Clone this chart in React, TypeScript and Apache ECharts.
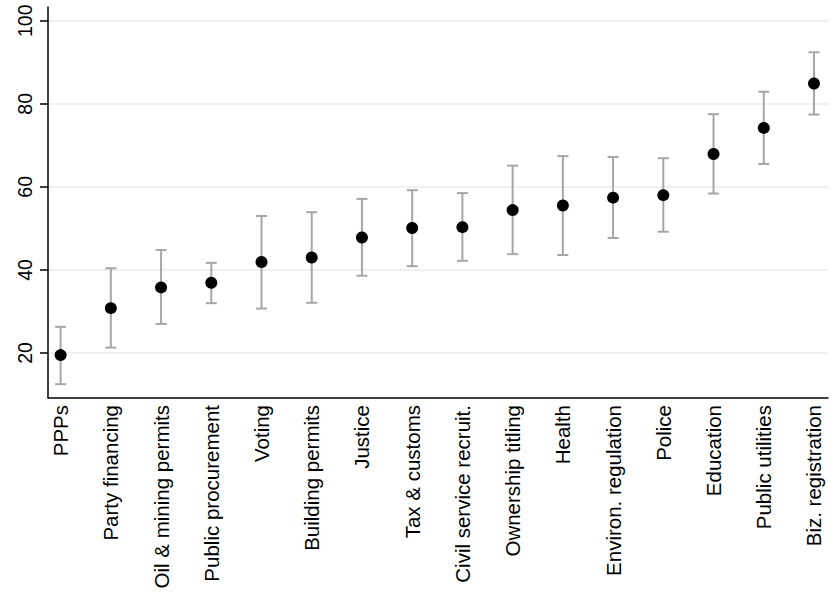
import React, { useEffect, useRef } from "react";
import * as echarts from "echarts";

const categories = [
  "PPPs",
  "Party financing",
  "Oil & mining permits",
  "Public procurement",
  "Voting",
  "Building permits",
  "Justice",
  "Tax & customs",
  "Civil service recruit.",
  "Ownership titling",
  "Health",
  "Environ. regulation",
  "Police",
  "Education",
  "Public utilities",
  "Biz. registration",
];
const means = [19.5, 30.8, 35.8, 36.9, 41.9, 43.0, 47.8, 50.1, 50.3, 54.4, 55.5, 57.4, 58.0, 67.9, 74.2, 84.9];
const lower = [12.5, 21.3, 27.0, 32.0, 30.7, 32.1, 38.6, 40.9, 42.2, 43.8, 43.6, 47.7, 49.2, 58.4, 65.5, 77.4];
const upper = [26.3, 40.4, 44.8, 41.7, 53.0, 53.9, 57.1, 59.2, 58.5, 65.1, 67.4, 67.2, 66.9, 77.5, 82.9, 92.4];
const yTicks = [20, 40, 60, 80, 100];

export default function App() {
  const ref = useRef<HTMLDivElement>(null);
  useEffect(() => {
    if (!ref.current) return;
    const chart = echarts.init(ref.current, null, { renderer: "svg" });
    const positions = categories.map((_, i) => i + 1);
    const font = "'Liberation Sans', Arial, sans-serif";
    chart.setOption({
      animation: false,
      backgroundColor: "#ffffff",
      grid: { left: 48, right: 6, top: 7, bottom: 208.5, containLabel: false },
      xAxis: {
        type: "value",
        min: 0.749,
        max: 16.279,
        axisLine: { show: true, onZero: false, lineStyle: { color: "#000", width: 1.5 } },
        axisTick: { show: false },
        splitLine: { show: false },
        axisLabel: {
          customValues: positions,
          rotate: 90,
          fontSize: 20.5,
          fontFamily: font,
          color: "#000",
          margin: 7.5,
          formatter: (v: number) => categories[Math.round(v) - 1] ?? "",
        },
      },
      yAxis: {
        type: "value",
        min: 9.29,
        max: 103.3,
        axisLine: { show: true, onZero: false, lineStyle: { color: "#000", width: 1.5 } },
        axisTick: { show: true, customValues: yTicks, length: 8, lineStyle: { color: "#000", width: 1.5 } },
        splitLine: { show: false },
        axisLabel: {
          customValues: yTicks,
          rotate: 90,
          fontSize: 19.5,
          fontFamily: font,
          color: "#000",
          margin: 13,
        },
      },
      series: [
        {
          type: "custom",
          silent: true,
          data: positions.map((p, i) => [p, lower[i], upper[i]]),
          renderItem: (params: any, api: any) => {
            const x = api.value(0);
            const lo = api.coord([x, api.value(1)]);
            const hi = api.coord([x, api.value(2)]);
            const cap = 5.5;
            const style = { stroke: "#a6a6a6", lineWidth: 2, fill: "none" };
            return {
              type: "group",
              children: [
                { type: "line", shape: { x1: lo[0], y1: lo[1], x2: hi[0], y2: hi[1] }, style },
                { type: "line", shape: { x1: lo[0] - cap, y1: lo[1], x2: lo[0] + cap, y2: lo[1] }, style },
                { type: "line", shape: { x1: hi[0] - cap, y1: hi[1], x2: hi[0] + cap, y2: hi[1] }, style },
              ],
            };
          },
          markLine: {
            silent: true,
            symbol: ["none", "none"],
            label: { show: false },
            lineStyle: { color: "#e6eef1", width: 1.5, type: "solid" },
            data: yTicks.map((t) => ({ yAxis: t })),
            z: 0,
          },
          z: 2,
        },
        {
          type: "scatter",
          symbol: "circle",
          symbolSize: 12,
          itemStyle: { color: "#000", opacity: 1 },
          data: positions.map((p, i) => [p, means[i]]),
          z: 3,
        },
      ],
    });
    return () => chart.dispose();
  }, []);
  return (
    <div
      ref={ref}
      style={{ position: "fixed", left: 0, top: 0, width: 834, height: 606, background: "#fff" }}
    />
  );
}
